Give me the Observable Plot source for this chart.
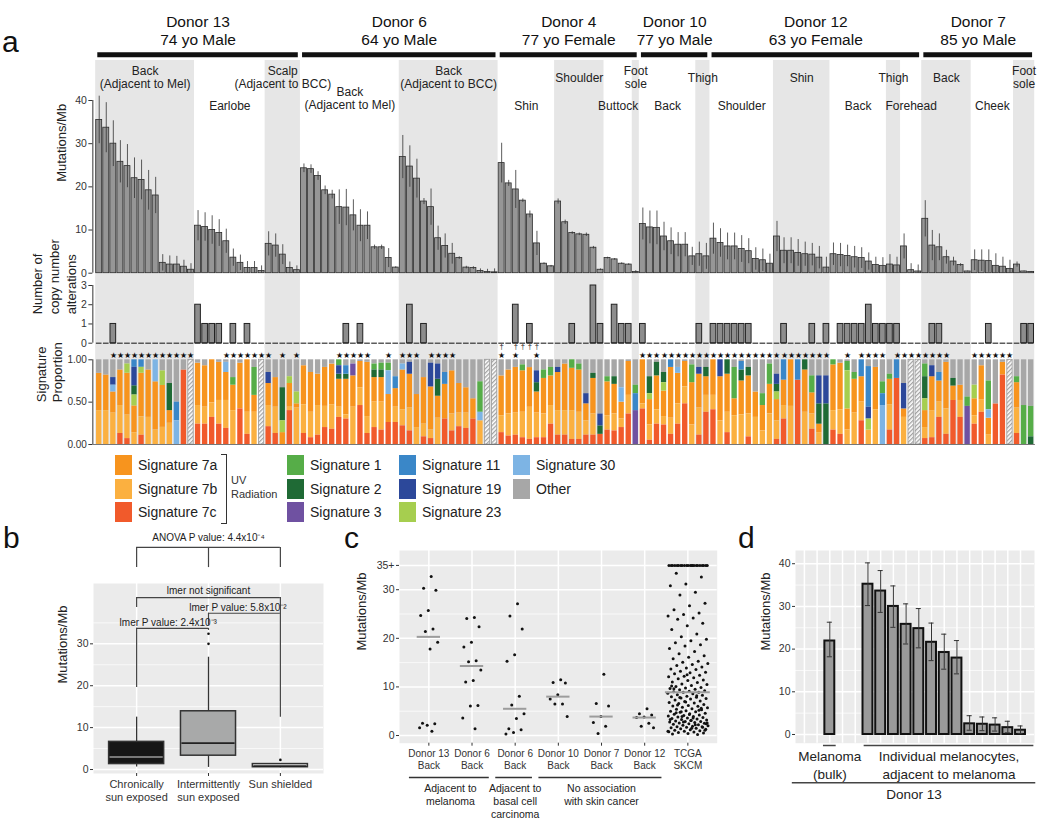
<!DOCTYPE html>
<html><head><meta charset="utf-8">
<script src="https://cdn.jsdelivr.net/npm/d3@7"></script>
<script src="https://cdn.jsdelivr.net/npm/@observablehq/plot@0.6"></script>
<style>
body{margin:0;background:#fff;font-family:"Liberation Sans",Arial,Helvetica,sans-serif;}
#root{position:relative;width:1050px;height:828px;overflow:hidden;background:#fff;}
.abs{position:absolute;}
.abs svg{overflow:visible;display:block}
.letter{position:absolute;font-size:30px;line-height:20px;height:20px;color:#111;}
.sw{position:absolute;width:17px;height:20px;}
.lt{position:absolute;font-size:14px;line-height:16px;color:#222;white-space:nowrap;}
</style></head><body><div id="root"></div>
<script>
// ---------------- DATA ----------------
const donorNames = ["Donor 13","Donor 6","Donor 4","Donor 10","Donor 12","Donor 7"];
const donorDesc  = ["74 yo Male","64 yo Male","77 yo Female","77 yo Male","63 yo Female","85 yo Male"];
const donorStart = [0,29,57,77,87,117];
const regionNames = ["Back\n(Adjacent to Mel)","Earlobe","Scalp\n(Adjacent to BCC)","Back\n(Adjacent to Mel)","Back\n(Adjacent to BCC)",
  "Shin","Shoulder","Buttock","Foot\nsole","Back","Thigh","Shoulder","Shin","Back","Thigh","Forehead","Back","Cheek","Foot\nsole"];
const regionStart = [0,14,24,29,43,57,65,72,76,77,85,87,96,104,112,114,117,124,130];
const regionRow = ["up","down","up","mid","up","down","up","down","up","down","up","down","up","down","up","down","up","down","up"];

const mutRate = [35.5,33.7,30.0,25.8,24.8,22.0,21.6,19.2,18.0,2.4,2.0,2.0,1.5,0.8,
 11.0,10.7,10.0,9.3,7.4,3.6,2.4,1.2,1.2,0.5,
 6.8,6.4,4.3,1.2,0.7,
 24.3,24.1,22.5,19.2,18.2,15.3,15.2,13.4,11.0,11.0,6.0,6.0,3.5,1.3,
 26.9,24.7,21.9,16.6,15.3,8.1,6.3,4.5,3.5,1.3,1.2,0.5,0.3,0.2,
 25.5,20.8,19.4,16.8,13.6,6.9,2.2,1.6,
 16.6,11.8,9.3,9.0,8.9,5.9,0.8,
 3.5,3.2,2.2,2.0,
 0.3,
 11.4,10.6,10.5,8.5,7.4,6.6,6.6,3.9,
 4.4,3.9,
 8.0,7.0,6.2,6.2,5.6,5.1,3.3,3.0,2.2,
 8.5,5.2,5.2,4.7,4.4,4.3,3.6,1.3,
 4.4,4.2,4.0,3.7,3.5,2.7,1.9,1.7,
 2.0,1.8,
 6.2,0.7,0.4,
 12.6,6.4,6.0,3.7,2.7,1.9,0.4,
 3.0,2.9,2.8,1.7,1.5,1.0,
 2.0,0.4,0.3];
const mutErrTop = [41,39.5,35.3,30.7,29.8,26.7,26.2,23.8,22.2,4.3,4.0,3.9,3.0,2.2,
 14.5,14.0,13.3,12.4,10.2,5.6,4.2,2.7,2.7,1.7,
 9.6,9.1,6.6,2.6,1.7,
 25.3,25.1,23.5,20.2,19.2,19.3,19.4,17.0,14.7,14.2,6.5,6.5,5.7,1.5,
 31.9,29.5,26.4,17.3,19.5,10.9,9.1,6.9,3.8,1.6,1.5,1.0,0.9,1.0,
 30.1,21.5,23.8,17.2,14.4,9.7,2.4,1.8,
 17.2,12.3,9.6,9.3,9.3,6.2,1.0,
 3.7,3.4,2.4,2.2,
 0.6,
 15.1,14.4,14.4,11.8,10.5,9.4,9.4,6.0,
 7.2,6.9,
 11.6,10.3,9.3,9.3,8.7,8.0,5.9,5.6,4.4,
 12.0,8.2,8.2,7.8,7.2,6.9,6.2,3.7,
 7.0,6.9,6.5,6.2,5.9,4.7,3.7,3.6,
 4.3,3.7,
 9.1,2.2,1.9,
 16.8,9.9,9.1,5.3,3.7,2.2,0.5,
 5.4,5.4,5.4,4.5,3.7,3.0,
 2.6,0.5,0.4];

const cnaPairs = [[2,1],[14,2],[15,1],[16,1],[17,1],[19,1],[21,1],[35,1],[37,1],[44,2],[46,1],[59,2],[61,1],[67,1],[70,3],[71,1],
 [73,2],[74,1],[75,1],[77,1],[85,1],[87,1],[88,1],[89,1],[90,1],[91,1],[92,1],[97,1],[101,1],[103,1],[105,1],[106,1],[107,1],
 [108,1],[109,2],[110,1],[111,1],[112,1],[113,1],[118,1],[119,1],[126,1],[131,1],[132,1]];

const sOther = [.16,.18,.21,.12,.05,0,0,.12,0,.13, .28,.50,.12,0,.04,.07,0,.03,.03,.21, .04,0,.09,0,.15,.21,.33,.20,.38,.07,
 .15,.17,.09,.05,0,.07,.05,.02,.03,.05, .04,.04,.20,.05,.03,.41,.21,.04,.05,.15, .13,.28,.33,.46,.26,0,0,.19,.12,.09,
 .06,.09,.13,.12,.09,.09,.05,0,.05,.40, .16,.64,.20,.20,.33,.02,.30,0,.20,.03, .15,0,.09,.02,.06,.09,.09,0,0,0,
 .09,.02,.09,.38,.40,.05,.17,0,0,0, 0,.19,.19,.19,0,.04,.02,.15,0,.08, .09,.26,.17,0,.28,0,0,.05,.07,.15,
 .03,.22,.30,.44,.30,.07,.25,.52,.03,0, .20,.54,.55];
const s7a = [.44,.42,.25,.42,.50,.32,.52,.56,.57,.49, .15,0,0,0,.50,.49,.51,.45,.33,.30, .54,.62,.20,0,.26,.35,.14,.28,.05,.46,
 .47,.37,.46,.48,.33,.42,.37,.31,.64,.29, .29,.33,.22,.47,.40,.39,.55,.51,.26,.41, .51,.35,.30,.24,0,0,0,.47,.52,.54,
 .49,.46,.25,.42,.35,.45,.55,.50,.50,.20, .42,0,.40,.35,.20,.40,0,.52,.30,.40, .30,.60,.36,.30,.50,.40,.22,.42,.52,.45,
 .20,.40,.45,.30,.30,.35,.25,.30,.55,0, .50,.25,.10,0,.54,.55,.25,.40,.30,0, .50,0,.30,0,.10,0,0,.20,.40,.25,
 .55,.17,.18,0,.20,.40,.20,0,.15,0, .30,0,0];
const s7b = [.40,.40,.37,.33,.28,.14,.22,.32,.17,.20, .25,0,0,0,.22,.20,.17,.28,.33,.40, 0,.26,.38,0,.25,.31,0,.04,.43,.34,
 .30,.35,.25,.29,.12,.05,.44,.21,.20,.30, .33,0,.18,.19,.27,.20,.15,.10,.31,0, .20,.16,.18,0,.28,0,0,.20,.26,.26,
 .30,.37,.29,.28,.22,.29,.29,.34,.32,.17, .25,0,.17,.20,.10,.22,0,.06,.18,.17, .10,.19,.24,.20,.23,.32,.20,.17,.28,.24,
 .34,.35,.27,.32,.16,.36,.22,.16,.45,0, .38,.18,.14,0,.23,.29,.17,.37,.22,.17, .41,0,.30,0,.32,0,0,.13,.32,.18,
 .30,0,.20,0,.10,.15,.11,0,0,0, .30,0,0];
const s7c = [0,0,0,.13,.07,0,.11,0,0,0, 0,0,.88,0,.24,.24,.32,.24,.19,0, .42,.12,0,0,.21,.13,0,.40,0,.13,
 .08,.11,.20,.18,.32,.30,0,.46,.13,.20, .17,.26,.26,.22,.16,0,.09,.07,0,.30, .16,.21,.19,.30,0,0,0,.14,.10,.11,
 .08,.06,.08,.08,.24,.11,.11,.06,.06,.11, .11,.12,.17,.16,.20,.36,0,.42,.05,.24, .23,.12,.24,.48,0,.11,.38,.41,0,.14,
 0,0,.09,0,0,0,.06,.30,0,.76, 0,.18,0,0,.17,.12,0,0,.28,0, 0,0,.17,.78,0,0,0,.07,.08,.32,
 .12,.52,.32,0,.24,.38,0,.48,.82,0, .13,0,0];
const s1 = [[19,.09],[22,.33],[34,.07],[39,.07],[40,.08],[41,.09],[54,.36],[60,.07],[63,.10],[64,.10],[67,.10],[68,.07],[72,.06],
 [76,.10],[84,.21],[90,.37],[94,.14],[95,.24],[101,.20],[104,.06],[106,.11],[107,.08],[111,.14],[112,.06],[117,.15],[123,.11],
 [126,.34],[130,.07],[131,.46],[132,.36]];
const s2 = [[5,.11],[10,.32],[26,.39],[34,.06],[35,.06],[39,.09],[40,.09],[48,.20],[62,.11],[70,.06],[71,.10],[73,.09],[78,.20],
 [79,.16],[80,.12],[86,.11],[89,.17],[91,.13],[92,.10],[96,.09],[100,.12],[102,.24],[103,.48],[117,.26],[121,.09],[132,.09]];
const s3 = [[36,.14],[76,.40],[123,.45]];
const s11 = [[5,.09],[6,.09],[11,.22],[35,.10],[42,.14],[49,.14],[76,.20],[81,.09],[91,.10],[97,.24],[99,.24],[108,.20],[109,.48],
 [111,.14],[113,.22],[119,.10]];
const s19 = [[2,.09],[5,.22],[24,.13],[34,.10],[44,.14],[47,.28],[48,.18],[62,.14],[65,.06],[69,.12],[71,.14],[85,.08],[88,.20],
 [96,.12],[102,.33],[103,.33],[109,.14],[114,.30],[118,.13]];
const s23 = [[4,.11],[5,.13],[6,.07],[9,.17],[26,.14],[27,.08],[28,.14],[78,.07],[80,.10],[96,.09],[106,.45],[109,.13],[117,.14],[124,.16]];
const s30 = [[2,.08],[8,.26],[11,.28],[18,.12],[41,.28],[43,.07],[54,.10],[74,.17],[82,.07],[111,.46],[126,.10]];
const hatchedCells = [13,23,55,56,115,116,129];
const starCells = [2,3,4,5,6,7,8,9,10,11,12,13,18,19,20,21,22,23,24,26,28,34,35,36,37,38,41,43,44,45,47,48,49,50,57,59,62,
 77,78,79,80,81,82,83,84,85,86,87,88,89,90,91,92,93,94,95,96,97,98,99,100,101,102,103,106,108,109,110,111,
 113,114,115,116,117,118,119,120,124,125,126,127,128,129];
const daggerCells = [57,59,60,61,62];

const sigKeys   = ["7a","7b","7c","1","2","3","11","19","23","30","Other"];
const sigLabels = ["Signature 7a","Signature 7b","Signature 7c","Signature 1","Signature 2","Signature 3","Signature 11","Signature 19","Signature 23","Signature 30","Other"];
const sigColors = ["#F7941E","#FBB040","#F15A2B","#56AD48","#1F6A35","#6F51A1","#3A87C8","#2C489A","#A6CE4F","#7DB4E4","#A7A7A7"];
const stackOrder = ["7c","7b","7a","3","30","23","2","19","11","1","Other"];

// Panel b
const bCats = ["Chronically\nsun exposed","Intermittently\nsun exposed","Sun shielded"];
const bLo  = [0.6, 0.5, 0.4];
const bQ1  = [1.3, 3.3, 0.55];
const bMed = [3.0, 6.3, 0.8];
const bQ3  = [6.6, 13.9, 1.3];
const bHi  = [12.5, 26.8, 1.3];
const bOutCat = [2, 2, 3];
const bOutVal = [32.4, 30.0, 2.3];
const bFill = ["#161616","#a8a9a9","#f2f2f2"];
const bMedColor = ["#9a9a9a","#222222","#222222"];
const bText = ["ANOVA P value: 4.4x10⁻⁴","lmer not significant","lmer P value: 5.8x10⁻²","lmer P value: 2.4x10⁻³"];
const bTextCat = [2, 2, 2.41, 1.44];
const bTextVal = [55.4, 42.6, 38.7, 35.1];
const bBracketH = [[1,3,53],[1,3,41.05],[2,3,37.3],[1,2,33.7]];
const bBracketV = [[1,53,48.2],[2,53,48.2],[3,53,48.2],[1,41.05,38.7],[3,41.05,12.5],[2,37.3,34.4],[1,33.7,19.6],[2,33.7,33.2]];

// Panel c
const cLabels = ["Donor 13\nBack","Donor 6\nBack","Donor 6\nBack","Donor 10\nBack","Donor 7\nBack","Donor 12\nBack","TCGA\nSKCM"];
const cD13 = [32.7,30.3,29.9,25.7,24.7,21.9,21.4,19.2,17.8,2.5,2.4,2.1,1.6,0.9];
const cD6m = [24.3,24.1,22.4,19.2,18.2,15.4,15.2,13.5,11.3,11.0,6.2,6.1,3.6,1.4];
const cD6b = [27.1,24.6,21.9,16.6,15.3,8.1,6.3,4.5,3.5,1.4,1.2,0.6,0.3];
const cD10 = [11.5,10.9,10.8,8.4,7.5,6.5,6.5,3.9];
const cD7  = [12.6,6.6,6.1,3.9,2.7,1.9,0.4];
const cD12 = [5.5,4.5,4.2,3.8,3.7,2.5,1.9,1.6];
const cTCGA = [35,35,35,35,35,35,35,35,35,35,35,35,35,35,35,35,35,35,35,35,35,35,
 33.4,32.6,31.2,30.8,29.5,28.9,27.2,26.7,25.9,25.2,24.9,24.6,24.2,23.9,23.1,22.6,21.8,20.9,20.3,19.8,19.5,19.1,18.7,18.4,
 17.9,17.3,16.8,16.4,16.1,15.8,15.3,15.1,14.8,14.6,14.4,14.1,13.9,13.7,13.6,13.2,13.0,12.9,12.7,12.4,12.2,12.1,11.9,11.7,
 11.4,11.3,11.0,10.9,10.6,10.5,10.3,10.1,9.9,9.8,9.7,9.5,9.4,9.2,9.1,9.0,8.9,8.9,8.7,8.6,8.4,8.3,8.1,8.0,7.9,7.7,7.6,7.5,
 7.3,7.1,7.0,6.8,6.7,6.6,6.4,6.2,6.1,6.0,5.8,5.7,5.5,5.4,5.3,5.1,5.0,4.9,4.8,4.6,4.5,4.4,4.2,4.1,4.0,3.9,3.8,3.7,3.6,3.5,
 3.4,3.3,3.2,3.1,3.0,2.9,2.9,2.8,2.7,2.6,2.5,2.4,2.3,2.2,2.1,2.0,1.9,1.8,1.8,1.7,1.6,1.5,1.4,1.3,1.2,1.1,1.0,0.9,0.8,0.7,
 0.6,0.5,0.4,0.3,0.2,3.9,2.6,1.5,4.7,5.6,6.9,3.3,2.2,7.8,1.1,4.3,9.6,5.2,2.8,0.9,3.6,6.3,1.7,12.5,10.2,8.2,4.9,2.4,3.1];
const cMedians = [20.3,14.3,5.5,8.0,3.9,3.7,8.9];
const cGroups = ["Adjacent to\nmelanoma","Adjacent to\nbasal cell\ncarcinoma","No association\nwith skin cancer"];
const cGroupFirst = [1,3,4];
const cGroupLast  = [2,3,6];

// Panel d
const dSlot   = [3,6,7,8,9,10,11,12,13,14,15,16,17,18];
const dVal    = [21.9,35.2,33.6,30.0,25.8,24.8,21.6,19.2,17.9,2.5,2.4,2.2,1.6,1.0];
const dErrLo  = [18.2,30.2,28.6,25.1,21.2,20.3,17.3,15.3,14.2,1.0,0.9,0.8,0.4,0.2];
const dErrHi  = [26.3,40.2,38.4,34.8,30.6,29.5,26.1,23.5,22.0,4.4,4.1,3.9,3.1,2.0];

// ---------------- BUILD ----------------
const N = mutRate.length;
const idx = d3.range(N);
const root = document.getElementById("root");
const FONT = "'Liberation Sans', Arial, Helvetica, sans-serif";
const baseStyle = {background:"transparent", fontFamily: FONT, overflow:"visible", color:"#222"};
function place(node, left, top){ const d=document.createElement("div"); d.className="abs"; d.style.left=left+"px"; d.style.top=top+"px"; d.appendChild(node); root.appendChild(d); return node; }

const cna = new Array(N).fill(0); cnaPairs.forEach(([i,v])=>cna[i]=v);
const regions = regionNames.map((name,k)=>({name, start:regionStart[k], end: k+1<regionStart.length?regionStart[k+1]:N, row:regionRow[k], grey:k%2===0}));
const greyBands = regions.filter(r=>r.grey);
const donors = donorNames.map((name,k)=>({name, desc:donorDesc[k], start:donorStart[k], end:k+1<donorStart.length?donorStart[k+1]:N}));
const rowDy = {up:-23.3, down:5, mid:-2.5};

const XDOM = [-0.4, 133.1], ML = 92.35, MR = 15.1;
const BAND = "#e6e6e6";

const p1 = Plot.plot({
  width:1050, height:280, marginLeft:ML, marginRight:MR, marginTop:100, marginBottom:7.3, style:baseStyle,
  x:{domain:XDOM, axis:null}, y:{domain:[0,40]},
  marks:[
    Plot.rect(greyBands, {x1:"start", x2:"end", fill:BAND, insetTop:-40, insetBottom:-7.3}),
    Plot.ruleY(donors, {x1:d=>d.start+0.3, x2:d=>d.end-0.3, y:40, dy:-45.7, stroke:"#111", strokeWidth:5}),
    Plot.text(donors, {x:d=>(d.start+d.end)/2, y:40, dy:-70.15, text:d=>d.name+"\n"+d.desc, fontSize:15.5, lineHeight:1.18, fill:"#111"}),
    ...["up","down","mid"].map(r=>Plot.text(regions.filter(d=>d.row===r), {x:d=>(d.start+d.end)/2, y:40, dy:rowDy[r], text:"name", fontSize:12, lineHeight:1.12, fill:"#222"})),
    Plot.rectY(idx, {x1:i=>i, x2:i=>i+1, y:i=>mutRate[i], insetLeft:0.55, insetRight:0.55, fill:"#969696", stroke:"#2b2b2b", strokeWidth:0.8}),
    Plot.ruleX(idx, {x:i=>i+0.5, y1:i=>Math.max(0,2*mutRate[i]-mutErrTop[i]), y2:i=>mutErrTop[i], stroke:"#333", strokeWidth:0.8}),
    Plot.ruleX([XDOM[0]], {y1:0, y2:40, stroke:"#333"}),
    Plot.axisY({ticks:[0,10,20,30,40], tickSize:4, tickPadding:2, fontSize:10.5, label:null, color:"#333"}),
    Plot.text(["Mutations/Mb"], {frameAnchor:"left", rotate:-90, dx:-30.6, dy:-5, fontSize:13, fill:"#222"})
  ]
});
place(p1, 0, 0);

const p2 = Plot.plot({
  width:1050, height:72, marginLeft:ML, marginRight:MR, marginTop:9, marginBottom:5.3, style:baseStyle,
  x:{domain:XDOM, axis:null}, y:{domain:[0,3]},
  marks:[
    Plot.rect(greyBands, {x1:"start", x2:"end", fill:BAND, insetTop:-9, insetBottom:-5.3}),
    Plot.rectY(idx.filter(i=>cna[i]>0), {x1:i=>i, x2:i=>i+1, y:i=>cna[i], insetLeft:0.7, insetRight:0.7, fill:"#8d8d8d", stroke:"#222", strokeWidth:1}),
    Plot.ruleY(idx, {x1:i=>i+0.1, x2:i=>i+0.9, y:0, stroke:"#333", strokeWidth:1.2}),
    Plot.ruleX([XDOM[0]], {y1:0, y2:3, stroke:"#333"}),
    Plot.axisY({ticks:[0,1,2,3], tickFormat:"d", tickSize:4, tickPadding:2, fontSize:10.5, label:null, color:"#333"}),
    Plot.text(["Number of\ncopy number\nalterations"], {frameAnchor:"left", rotate:-90, dx:-39, fontSize:13, lineHeight:1.3, fill:"#222"})
  ]
});
place(p2, 0, 276);

const sparse = {"1":s1,"2":s2,"3":s3,"11":s11,"19":s19,"23":s23,"30":s30};
const dense = {"7a":s7a,"7b":s7b,"7c":s7c,"Other":sOther};
const sigLong = [];
for (const k in dense) dense[k].forEach((v,i)=>{ if (v>0) sigLong.push({i, sig:k, v}); });
for (const k in sparse) sparse[k].forEach(([i,v])=>sigLong.push({i, sig:k, v}));
const p3 = Plot.plot({
  width:1050, height:104, marginLeft:ML, marginRight:MR, marginTop:15.3, marginBottom:4, style:baseStyle,
  x:{domain:XDOM, axis:null}, y:{domain:[0,1]},
  color:{domain:sigKeys, range:sigColors},
  marks:[
    Plot.rect(greyBands, {x1:"start", x2:"end", fill:BAND, insetTop:-15.3}),
    Plot.rectY(sigLong, {x1:"i", x2:d=>d.i+1, y:"v", fill:"sig", order:stackOrder, offset:"normalize", insetLeft:0.85, insetRight:0.85}),
    Plot.rectY(hatchedCells, {x1:i=>i, x2:i=>i+1, y1:0, y2:1, insetLeft:0.85, insetRight:0.85, fill:"url(#hatch)", stroke:"#9a9a9a", strokeWidth:0.8}),
    Plot.ruleY([0], {stroke:"#777"}),
    Plot.text(starCells, {x:i=>i+0.5, y:1, dy:-4, text:()=>"★", fontSize:8, fill:"#111"}),
    Plot.text(daggerCells, {x:i=>i+0.5, y:1, dy:-12.8, text:()=>"†", fontSize:7.5, fill:"#111"}),
    Plot.ruleX([XDOM[0]], {y1:0, y2:1, stroke:"#333"}),
    Plot.axisY({ticks:[0,0.5,1], tickFormat:".2f", tickSize:4, tickPadding:2, fontSize:10, label:null, color:"#333"}),
    Plot.text(["Signature\nProportion"], {frameAnchor:"left", rotate:-90, dx:-44, fontSize:13, lineHeight:1.25, fill:"#222"})
  ]
});
(function addHatch(svg){
  const ns="http://www.w3.org/2000/svg";
  const defs=document.createElementNS(ns,"defs");
  const pat=document.createElementNS(ns,"pattern");
  pat.setAttribute("id","hatch"); pat.setAttribute("patternUnits","userSpaceOnUse");
  pat.setAttribute("width","3"); pat.setAttribute("height","3"); pat.setAttribute("patternTransform","rotate(45)");
  const bg=document.createElementNS(ns,"rect"); bg.setAttribute("width","3"); bg.setAttribute("height","3"); bg.setAttribute("fill","#ffffff");
  const ln=document.createElementNS(ns,"rect"); ln.setAttribute("width","1.3"); ln.setAttribute("height","3"); ln.setAttribute("fill","#a3a3a3");
  pat.append(bg, ln); defs.append(pat); svg.insertBefore(defs, svg.firstChild);
})(p3);
place(p3, 0, 344);

// Legend
const legCols = [[0,1,2],[3,4,5],[6,7,8],[9,10]];
const colX = [115,287,399,513], rowY = [465,489,512];
legCols.forEach((col,c)=>col.forEach((k,r)=>{
  const sw=document.createElement("div"); sw.className="sw"; sw.style.background=sigColors[k];
  sw.style.left=colX[c]+"px"; sw.style.top=(rowY[r]-10)+"px"; root.appendChild(sw);
  const t=document.createElement("div"); t.className="lt"; t.textContent=sigLabels[k];
  t.style.left=(colX[c]+23)+"px"; t.style.top=(rowY[r]-8)+"px"; root.appendChild(t);
}));
{
  const br=document.createElement("div"); br.style.cssText="position:absolute;left:221px;top:454px;width:5px;height:68px;border:1.5px solid #333;border-left:none;";
  root.appendChild(br);
  const uv=document.createElement("div"); uv.style.cssText="position:absolute;left:231px;top:473px;font-size:11px;line-height:14px;color:#333;";
  uv.innerHTML="UV<br>Radiation"; root.appendChild(uv);
}

// Panel letters (baseline ≈ top + 20.4)
[["a",2,31.6],["b",3,527.6],["c",344,527.6],["d",738,527.6]].forEach(([t,l,tp])=>{
  const e=document.createElement("div"); e.className="letter"; e.textContent=t; e.style.left=l+"px"; e.style.top=tp+"px"; root.appendChild(e);
});

// Panel b
const bIdx = [0,1,2];
const pb = Plot.plot({
  width:340, height:300, marginLeft:93, marginRight:17, marginTop:63, marginBottom:47, style:baseStyle,
  x:{domain:[0.4,3.6]}, y:{domain:[-0.95,44.4]}, color:{type:"identity"},
  marks:[
    Plot.frame({fill:"#ebebeb", stroke:null}),
    Plot.ruleY([5,15,25,35], {stroke:"white", strokeWidth:0.7}),
    Plot.ruleY([0,10,20,30], {stroke:"white", strokeWidth:1.5}),
    Plot.ruleX([1,2,3], {stroke:"white", strokeWidth:1.5}),
    Plot.ruleX(bIdx, {x:k=>k+1, y1:k=>bLo[k], y2:k=>bQ1[k], stroke:"#333", strokeWidth:1.3}),
    Plot.ruleX(bIdx, {x:k=>k+1, y1:k=>bQ3[k], y2:k=>bHi[k], stroke:"#333", strokeWidth:1.3}),
    Plot.rect(bIdx, {x1:k=>k+1-0.383, x2:k=>k+1+0.383, y1:k=>bQ1[k], y2:k=>bQ3[k], fill:k=>bFill[k], stroke:"#333", strokeWidth:1.5}),
    Plot.ruleY(bIdx, {x1:k=>k+1-0.37, x2:k=>k+1+0.37, y:k=>bMed[k], stroke:k=>bMedColor[k], strokeWidth:1.6}),
    Plot.dot(bOutCat.map((c,j)=>j), {x:j=>bOutCat[j], y:j=>bOutVal[j], r:1.3, fill:"#111", stroke:null}),
    Plot.ruleY(bBracketH, {x1:d=>d[0], x2:d=>d[1], y:d=>d[2], stroke:"#444", strokeWidth:1.2}),
    Plot.ruleX(bBracketV, {x:d=>d[0], y1:d=>d[1], y2:d=>d[2], stroke:"#444", strokeWidth:1.2}),
    Plot.text(bText, {x:(d,j)=>bTextCat[j], y:(d,j)=>bTextVal[j], text:d=>d, fontSize:10, fill:"#222"}),
    Plot.axisY({ticks:[0,10,20,30], tickSize:3, tickPadding:2, fontSize:10.5, label:null, color:"#333"}),
    Plot.axisX({ticks:[1,2,3], tickFormat:k=>bCats[k-1], tickSize:3, tickPadding:2, fontSize:11, lineHeight:1.18, label:null, color:"#333"}),
    Plot.text(["Mutations/Mb"], {frameAnchor:"left", rotate:-90, dx:-31, dy:5, fontSize:13, fill:"#222"})
  ]
});
place(pb, 0, 520);

// Panel c
const cSets = [cD13,cD6m,cD6b,cD10,cD7,cD12,cTCGA];
const cPts = [];
cSets.forEach((arr,g)=>arr.forEach((v,k)=>cPts.push({g:g+1, v, k, w: g===6?0.47:0.23})));
const jit = d => (((d.k+1)*0.6180339887) % 1 - 0.5) * 2 * d.w;
const pc = Plot.plot({
  width:380, height:308, marginLeft:59, marginRight:3.3, marginTop:30, marginBottom:85.3, style:baseStyle,
  x:{domain:[0.32,7.68]}, y:{domain:[-1.58,38.07]},
  marks:[
    Plot.frame({fill:"#ebebeb", stroke:null}),
    Plot.ruleY([5,15,25], {stroke:"white", strokeWidth:0.7}),
    Plot.ruleY([0,10,20,30,35], {stroke:"white", strokeWidth:1.5}),
    Plot.ruleX([1,2,3,4,5,6,7], {stroke:"white", strokeWidth:1.5}),
    Plot.dot(cPts, {x:d=>d.g+jit(d), y:"v", r:1.5, fill:"#111", stroke:null}),
    Plot.ruleY(cMedians, {x1:(d,j)=>j+1-(j===6?0.52:0.27), x2:(d,j)=>j+1+(j===6?0.52:0.27), y:d=>d, stroke:"#9c9c9c", strokeWidth:2}),
    Plot.axisY({ticks:[0,10,20,30,35], tickFormat:v=>v===35?"35+":String(v), tickSize:3, tickPadding:2, fontSize:10.5, label:null, color:"#333"}),
    Plot.axisX({ticks:[1,2,3,4,5,6,7], tickFormat:k=>cLabels[k-1], tickSize:3, tickPadding:2, fontSize:10, lineHeight:1.2, label:null, color:"#333"}),
    Plot.ruleY(cGroups, {x1:(d,j)=>cGroupFirst[j]-0.45, x2:(d,j)=>cGroupLast[j]+0.4, y:-1.58, dy:34.3, stroke:"#333", strokeWidth:1.3}),
    Plot.text(cGroups, {x:(d,j)=>(cGroupFirst[j]+cGroupLast[j])/2, y:-1.58, dy:40.3, lineAnchor:"top", text:d=>d, fontSize:10.5, lineHeight:1.2, fill:"#222"}),
    Plot.text(["Mutations/Mb"], {frameAnchor:"left", rotate:-90, dx:-37.3, dy:3.7, fontSize:13, fill:"#222"})
  ]
});
place(pc, 340, 520);

// Panel d
const dIdx = d3.range(dVal.length);
const pd = Plot.plot({
  width:330, height:308, marginLeft:75, marginRight:16, marginTop:30, marginBottom:85.3, style:baseStyle,
  x:{domain:[0.3,19.1], axis:null}, y:{domain:[-2.04,43.1]},
  marks:[
    Plot.frame({fill:"#ebebeb", stroke:null}),
    Plot.ruleY([5,15,25,35], {stroke:"white", strokeWidth:0.7}),
    Plot.ruleY([0,10,20,30,40], {stroke:"white", strokeWidth:1.5}),
    Plot.ruleX(d3.range(1,19), {stroke:"white", strokeWidth:1.5}),
    Plot.rect(dIdx, {x1:k=>dSlot[k]-0.39, x2:k=>dSlot[k]+0.39, y1:0, y2:k=>dVal[k], fill:"#9a9a9a", stroke:"#111", strokeWidth:2}),
    Plot.ruleX(dIdx, {x:k=>dSlot[k], y1:k=>dErrLo[k], y2:k=>dErrHi[k], stroke:"#333", strokeWidth:1}),
    Plot.ruleY(dIdx, {x1:k=>dSlot[k]-0.2, x2:k=>dSlot[k]+0.2, y:k=>dErrLo[k], stroke:"#333", strokeWidth:1}),
    Plot.ruleY(dIdx, {x1:k=>dSlot[k]-0.2, x2:k=>dSlot[k]+0.2, y:k=>dErrHi[k], stroke:"#333", strokeWidth:1}),
    Plot.axisY({ticks:[0,10,20,30,40], tickSize:3, tickPadding:2, fontSize:10.5, label:null, color:"#333"}),
    Plot.ruleY([[2.5,3.5],[5.7,19.05]], {x1:d=>d[0], x2:d=>d[1], y:-2.04, dy:2.3, stroke:"#444", strokeWidth:1.5}),
    Plot.text(["Melanoma\n(bulk)","Individual melanocytes,\nadjacent to melanoma"], {x:(d,j)=>j===0?3:(5.7+19.05)/2, y:-2.04, dy:21.2, text:d=>d, fontSize:13.5, lineHeight:1.3, fill:"#222"}),
    Plot.ruleY([[0.05,19.2]], {x1:d=>d[0], x2:d=>d[1], y:-2.04, dy:39.6, stroke:"#444", strokeWidth:1.5}),
    Plot.text(["Donor 13"], {x:(0.05+19.2)/2, y:-2.04, dy:51, text:d=>d, fontSize:13.5, fill:"#222"}),
    Plot.text(["Mutations/Mb"], {frameAnchor:"left", rotate:-90, dx:-30, dy:3.7, fontSize:13, fill:"#222"})
  ]
});
place(pd, 720, 520);
</script></body></html>
